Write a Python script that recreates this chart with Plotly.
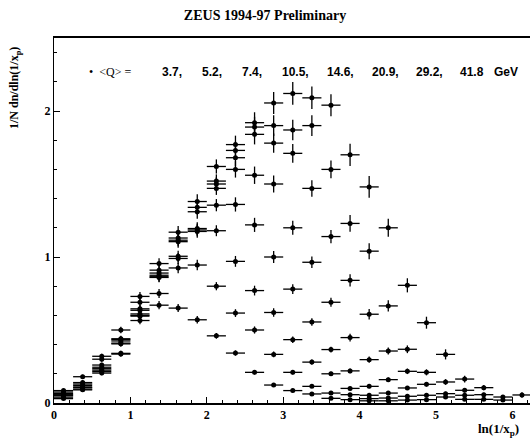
import plotly.graph_objects as go

# Bin centres in ln(1/x_p) (bins of width 0.25)
BIN_CENTERS = [0.125, 0.375, 0.625, 0.875, 1.125, 1.375, 1.625, 1.875, 2.125, 2.375,
               2.625, 2.875, 3.125, 3.375, 3.625, 3.875, 4.125, 4.375, 4.625, 4.875,
               5.125, 5.375, 5.625, 5.875, 6.125]
BIN_HALF_WIDTH = 0.125

Q_LABELS = ["3.7", "5.2", "7.4", "10.5", "14.6", "20.9", "29.2", "41.8"]
N = None
q37 = [0.03, 0.09, 0.205, 0.335, 0.565, 0.67, 0.65, 0.57, 0.46, 0.342, 0.21, 0.123, 0.085,
       0.062, 0.032, 0.023, 0.015, N, N, N, N, N, N, N, N]
q52 = [0.04, 0.095, 0.215, 0.34, 0.595, 0.75, 0.925, 0.945, 0.80, 0.616, 0.50, 0.333, 0.21,
       0.114, 0.068, 0.057, 0.03, 0.015, N, N, N, N, N, N, N]
q74 = [0.05, 0.105, 0.225, 0.405, 0.60, 0.86, 0.99, 1.175, 1.18, 0.97, 0.77, 0.62, 0.434,
       0.28, 0.20, 0.10, 0.053, 0.034, 0.02, N, N, N, N, N, N]
q105 = [0.055, 0.11, 0.235, 0.41, 0.61, 0.865, 1.005, 1.185, 1.355, 1.36, 1.22, 1.00, 0.78,
        0.555, 0.366, 0.22, 0.114, 0.068, 0.046, 0.023, N, N, N, N, N]
q146 = [0.06, 0.12, 0.245, 0.425, 0.635, 0.875, 1.105, 1.195, 1.47, 1.60, 1.56, 1.50, 1.20,
        0.964, 0.69, 0.448, 0.297, 0.16, 0.103, 0.053, 0.041, 0.025, N, N, N]
q209 = [0.065, 0.13, 0.26, 0.435, 0.645, 0.89, 1.115, 1.31, 1.50, 1.68, 1.84, 1.78, 1.71,
        1.47, 1.14, 0.84, 0.608, 0.356, 0.217, 0.128, 0.064, 0.053, 0.025, N, N]
q292 = [0.075, 0.14, 0.30, 0.44, 0.69, 0.91, 1.13, 1.34, 1.52, 1.73, 1.89, 1.90, 1.87,
        1.90, 1.60, 1.23, 1.04, 0.665, 0.368, 0.21, 0.144, 0.087, 0.057, 0.02, N]
q418 = [0.085, 0.18, 0.32, 0.50, 0.73, 0.955, 1.17, 1.38, 1.62, 1.77, 1.92, 2.055, 2.12,
        2.09, 2.04, 1.70, 1.48, 1.20, 0.806, 0.55, 0.333, 0.164, 0.105, 0.041, 0.055]
SERIES = [q37, q52, q74, q105, q146, q209, q292, q418]

# relative vertical error per bin plus a small floor
ERR_REL = [0.03, 0.03, 0.03, 0.03, 0.03, 0.03, 0.03, 0.03, 0.025, 0.03,
           0.033, 0.033, 0.033, 0.033, 0.033, 0.04, 0.045, 0.045, 0.05, 0.06,
           0.08, 0.09, 0.1, 0.15, 0.2]
ERR_ABS = 0.008

fig = go.Figure()
for q, vals in zip(Q_LABELS, SERIES):
    xs, ys, es = [], [], []
    for x, v, r in zip(BIN_CENTERS, vals, ERR_REL):
        if v is None:
            continue
        xs.append(x)
        ys.append(v)
        es.append(v * r + ERR_ABS)
    fig.add_trace(go.Scatter(
        x=xs, y=ys, mode="markers", name=q + " GeV",
        marker=dict(color="black", size=5, symbol="circle"),
        error_x=dict(type="constant", value=BIN_HALF_WIDTH, color="black", thickness=1.3, width=0),
        error_y=dict(type="data", array=es, color="black", thickness=1.3, width=0),
        showlegend=False,
    ))

serif = "Liberation Serif"
W, H = 530, 441
L, R, T, B = 54, 0, 38, 38
PW, PH = W - L - R, H - T - B

fig.update_layout(
    width=W, height=H,
    margin=dict(l=L, r=R, t=T, b=B),
    paper_bgcolor="white", plot_bgcolor="white",
    title=dict(text="<b>ZEUS 1994-97 Preliminary</b>", x=0.5, xref="container", xanchor="center",
               y=1 - 15 / H, yref="container", yanchor="middle",
               font=dict(family=serif, size=14, color="black")),
    xaxis=dict(range=[0, 6.23], showgrid=False, zeroline=False,
               showline=True, linecolor="black", linewidth=2, mirror=True,
               ticks="inside", ticklen=6, tickwidth=1.2, tickcolor="black",
               tickvals=[0, 1, 2, 3, 4, 5, 6],
               minor=dict(dtick=0.2, ticks="inside", ticklen=3, tickwidth=1, tickcolor="black"),
               tickfont=dict(family=serif, size=12, color="black", weight="bold")),
    yaxis=dict(range=[0, 2.5], showgrid=False, zeroline=False,
               showline=True, linecolor="black", linewidth=1.3,
               ticks="inside", ticklen=6, tickwidth=1.2, tickcolor="black",
               tickvals=[0, 1, 2],
               minor=dict(dtick=0.2, ticks="inside", ticklen=3, tickwidth=1, tickcolor="black"),
               tickfont=dict(family=serif, size=12, color="black", weight="bold")),
)


def px(xp):
    return (xp - L) / PW


def py(yp):
    return (H - B - yp) / PH


anns = [
    dict(text="<b>1/N dn/dln(1/x<sub>p</sub>)</b>", x=px(15), y=py(88), textangle=-90,
         xanchor="center", yanchor="middle", font=dict(family=serif, size=12, color="black")),
    dict(text="<b>ln(1/x<sub>p</sub>)</b>", x=px(521), y=py(429), xanchor="right", yanchor="middle",
         font=dict(family=serif, size=13, color="black")),
    dict(text="\u2022  &lt;Q&gt; =", x=px(87), y=py(72), xanchor="left", yanchor="middle",
         font=dict(family=serif, size=12, color="black")),
]
LEGEND_ITEMS = ["3.7,", "5.2,", "7.4,", "10.5,", "14.6,", "20.9,", "29.2,", "41.8", "GeV"]
LEGEND_X = [160, 200, 240, 280, 325, 370, 414, 458, 492]
for txt, lx in zip(LEGEND_ITEMS, LEGEND_X):
    anns.append(dict(text="<b>" + txt + "</b>", x=px(lx), y=py(72), xanchor="left", yanchor="middle",
                     font=dict(family="Liberation Sans", size=12, color="black")))

fig.update_layout(annotations=[dict(a, xref="paper", yref="paper", showarrow=False) for a in anns])

fig.write_html("out.html", config={"displayModeBar": False},
               post_script="document.body.style.margin='0';document.body.style.overflow='hidden';")
